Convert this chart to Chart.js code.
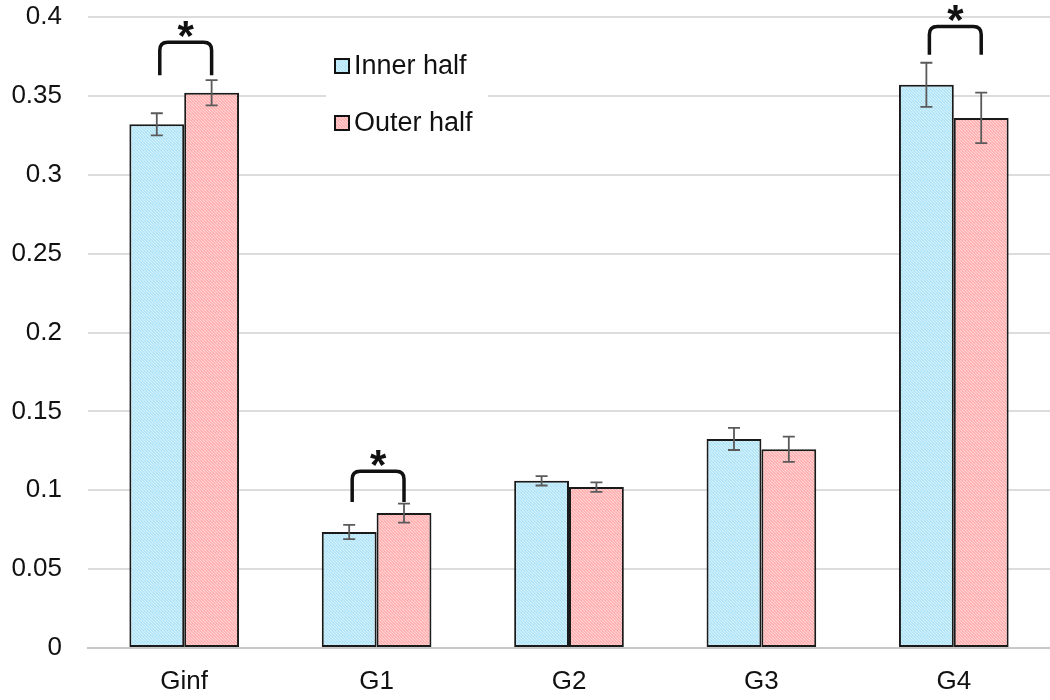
<!DOCTYPE html>
<html>
<head>
<meta charset="utf-8">
<script src="https://cdn.jsdelivr.net/npm/chart.js@4.4.0/dist/chart.umd.min.js"></script>
<style>
  html, body { margin: 0; padding: 0; background: #fff; }
  #wrap { width: 1050px; height: 700px; }
</style>
</head>
<body>
<div id="wrap"><canvas id="chart" width="1050" height="700"></canvas></div>
<script>
// ===============================
// DATOS
// ===============================
const categorias = ["Ginf", "G1", "G2", "G3", "G4"];
const interior = [0.332, 0.0735, 0.106, 0.1325, 0.357];
const interiorErr = [0.007, 0.0045, 0.003, 0.007, 0.014];
const exterior = [0.352, 0.0855, 0.102, 0.126, 0.336];
const exteriorErr = [0.008, 0.006, 0.003, 0.008, 0.016];
const etiquetas = ["Inner half", "Outer half"];
// corchetes de significancia: categoría, altura superior, altura de las patas
const sigCategoria = [0, 1, 4];
const sigArriba = [0.384, 0.112, 0.394];
const sigAbajo = [0.363, 0.0925, 0.376];

const FUENTE = "'Liberation Sans', Arial, sans-serif";

function patron(base, raya) {
  const c = document.createElement("canvas");
  c.width = 6;
  c.height = 6;
  const ctx = c.getContext("2d");
  ctx.fillStyle = base;
  ctx.fillRect(0, 0, 6, 6);
  ctx.strokeStyle = raya;
  ctx.lineWidth = 1.3;
  ctx.beginPath();
  for (let k = -6; k <= 6; k += 3) {
    ctx.moveTo(k, 0);
    ctx.lineTo(k + 6, 6);
  }
  ctx.stroke();
  return document.getElementById("chart").getContext("2d").createPattern(c, "repeat");
}

const azul = patron("#9fdcf3", "#d4f2fc");
const rosa = patron("#ff9d9d", "#ffd3d3");

// ===============================
// PLUGINS
// ===============================
const barrasError = {
  id: "barrasError",
  afterDatasetsDraw(chart) {
    const ctx = chart.ctx;
    const y = chart.scales.y;
    const errores = [interiorErr, exteriorErr];
    ctx.save();
    ctx.strokeStyle = "#5a5a5a";
    ctx.lineWidth = 1.8;
    chart.data.datasets.forEach((ds, i) => {
      chart.getDatasetMeta(i).data.forEach((bar, j) => {
        const v = ds.data[j];
        const yt = y.getPixelForValue(v + errores[i][j]);
        const yb = y.getPixelForValue(v - errores[i][j]);
        ctx.beginPath();
        ctx.moveTo(bar.x, yt);
        ctx.lineTo(bar.x, yb);
        ctx.moveTo(bar.x - 6, yt);
        ctx.lineTo(bar.x + 6, yt);
        ctx.moveTo(bar.x - 6, yb);
        ctx.lineTo(bar.x + 6, yb);
        ctx.stroke();
      });
    });
    ctx.restore();
  },
};

const corchetes = {
  id: "corchetes",
  afterDatasetsDraw(chart) {
    const ctx = chart.ctx;
    const y = chart.scales.y;
    const m0 = chart.getDatasetMeta(0).data;
    const m1 = chart.getDatasetMeta(1).data;
    ctx.save();
    ctx.strokeStyle = "#111";
    ctx.lineWidth = 3.5;
    ctx.lineJoin = "round";
    sigCategoria.forEach((c, k) => {
      const x1 = m0[c].x + 3;
      const x2 = m1[c].x;
      const yt = y.getPixelForValue(sigArriba[k]);
      const yb = y.getPixelForValue(sigAbajo[k]);
      const r = 8;
      ctx.beginPath();
      ctx.moveTo(x1, yb);
      ctx.lineTo(x1, yt + r);
      ctx.quadraticCurveTo(x1, yt, x1 + r, yt);
      ctx.lineTo(x2 - r, yt);
      ctx.quadraticCurveTo(x2, yt, x2, yt + r);
      ctx.lineTo(x2, yb);
      ctx.stroke();
      ctx.fillStyle = "#111";
      ctx.font = "bold 42px " + FUENTE;
      ctx.textAlign = "center";
      ctx.textBaseline = "alphabetic";
      ctx.fillText("*", (x1 + x2) / 2, yt + 8);
    });
    ctx.restore();
  },
};

const leyenda = {
  id: "leyenda",
  afterDraw(chart) {
    const ctx = chart.ctx;
    ctx.save();
    ctx.fillStyle = "#fff";
    ctx.fillRect(326, 42, 162, 108);
    const filas = [66, 123];
    const rellenos = [azul, rosa];
    filas.forEach((fy, i) => {
      ctx.fillStyle = rellenos[i];
      ctx.fillRect(335, fy - 7, 14, 14);
      ctx.strokeStyle = "#111";
      ctx.lineWidth = 2;
      ctx.strokeRect(335, fy - 7, 14, 14);
      ctx.fillStyle = "#111";
      ctx.font = "27px " + FUENTE;
      ctx.textAlign = "left";
      ctx.textBaseline = "middle";
      ctx.fillText(etiquetas[i], 354, fy + 1);
    });
    ctx.restore();
  },
};

// ===============================
// GRÁFICO
// ===============================
new Chart(document.getElementById("chart"), {
  type: "bar",
  data: {
    labels: categorias,
    datasets: [
      {
        label: etiquetas[0],
        data: interior,
        backgroundColor: azul,
        borderColor: "#1a1a1a",
        borderWidth: 2,
        borderSkipped: false,
      },
      {
        label: etiquetas[1],
        data: exterior,
        backgroundColor: rosa,
        borderColor: "#1a1a1a",
        borderWidth: 2,
        borderSkipped: false,
      },
    ],
  },
  options: {
    responsive: false,
    animation: false,
    devicePixelRatio: 1,
    layout: { padding: 0 },
    plugins: { legend: { display: false }, tooltip: { enabled: false } },
    datasets: { bar: { barPercentage: 1, categoryPercentage: 0.57 } },
    scales: {
      x: {
        afterFit: (s) => { s.height = 52; },
        grid: { display: false },
        border: { display: true, color: "#c8c8c8", width: 2 },
        ticks: { color: "#111", font: { size: 26, family: FUENTE }, padding: 10 },
      },
      y: {
        min: 0,
        max: 0.4,
        afterFit: (s) => {
          s.width = 88;
          s.paddingTop = 17;
          s.paddingBottom = 0;
        },
        border: { display: false },
        grid: { color: "#dcdcdc", lineWidth: 2, drawTicks: false },
        ticks: {
          stepSize: 0.05,
          color: "#111",
          padding: 26,
          font: { size: 26, family: FUENTE },
          callback: (v) => String(parseFloat(v.toFixed(2))),
        },
      },
    },
  },
  plugins: [barrasError, corchetes, leyenda],
});
</script>
</body>
</html>
